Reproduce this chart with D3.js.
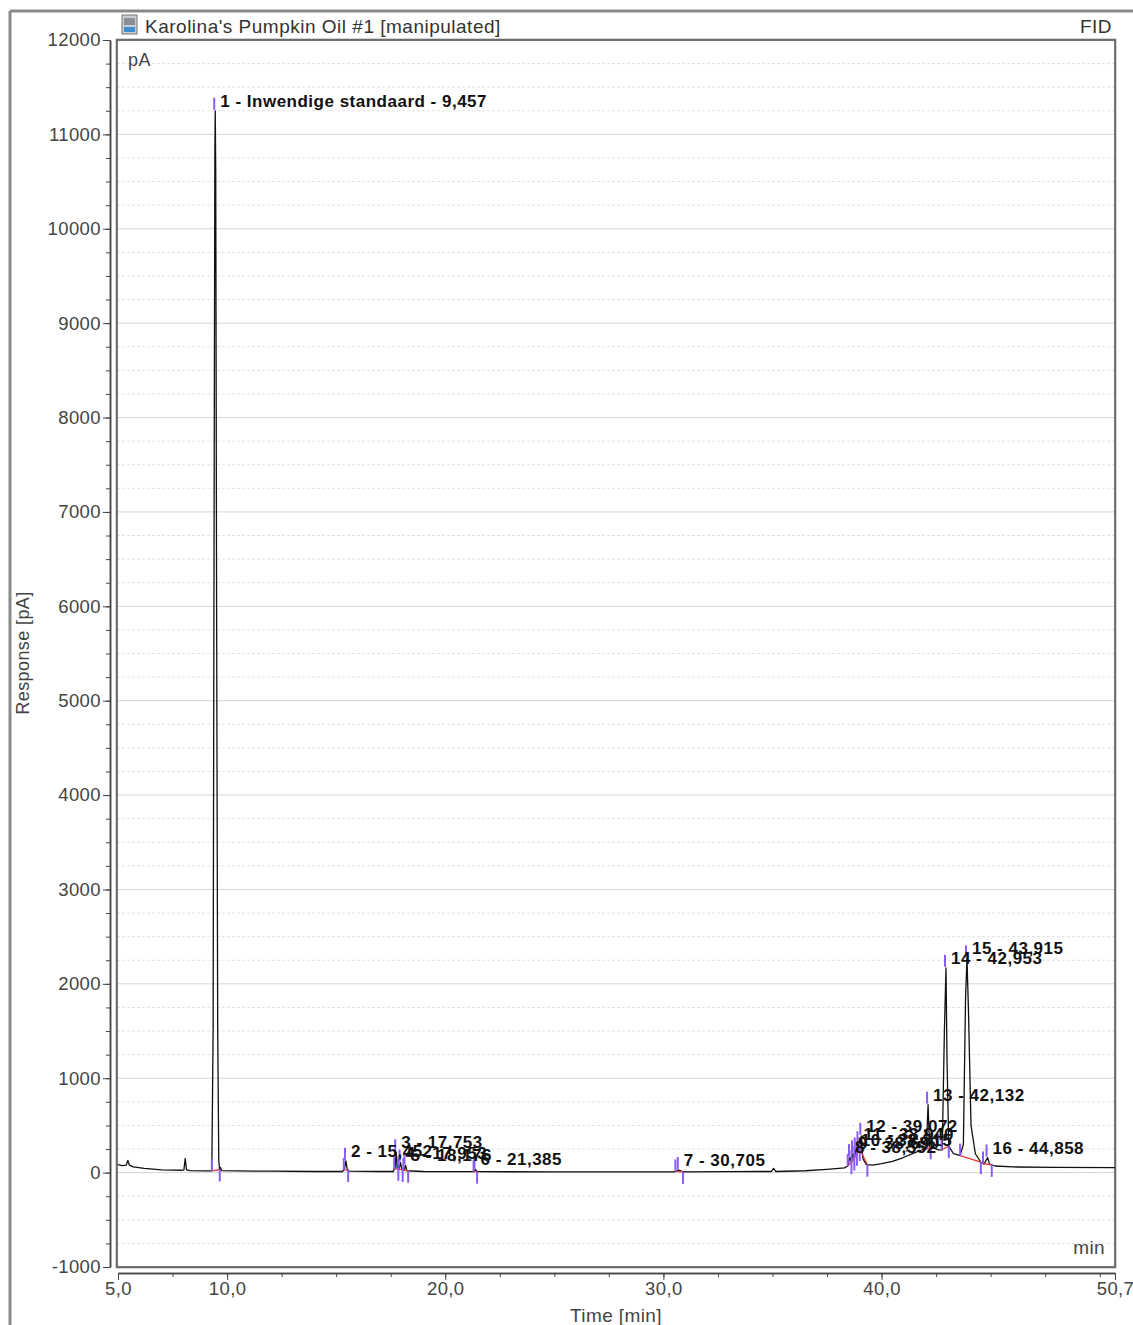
<!DOCTYPE html>
<html>
<head>
<meta charset="utf-8">
<script src="https://cdn.jsdelivr.net/npm/d3@7"></script>
<style>
  body { margin: 0; background: #fff; }
  text { font-family: "Liberation Sans", Arial, sans-serif; }
</style>
</head>
<body>
<div class="chart"></div>
<script>
// chromatogram trace (time in min, response in pA)
const traceTime = [5.00, 5.20, 5.38, 5.45, 5.52, 5.70, 6.20, 7.00, 7.90, 8.02, 8.08, 8.14, 8.30, 9.00, 9.30,
  9.36, 9.41, 9.44, 9.457, 9.48, 9.52, 9.57, 9.62, 9.66, 9.70, 9.74, 10.5, 12.0, 14.0,
  15.30, 15.38, 15.45, 15.50, 15.60, 17.0, 17.62, 17.70, 17.753, 17.80, 17.88, 17.95, 18.02, 18.12, 18.176, 18.24,
  19.0, 21.30, 21.385, 21.46, 25.0, 30.5, 30.705, 30.90, 33.0, 34.95, 35.05, 35.15, 36.5, 37.5, 38.3,
  38.45, 38.552, 38.62, 38.69, 38.75, 38.815, 38.87, 38.94, 39.00, 39.072, 39.14, 39.30, 39.6, 40.0, 40.5,
  41.0, 41.5, 41.9, 42.05, 42.132, 42.20, 42.40, 42.60, 42.78, 42.88, 42.953, 43.00, 43.08, 43.30, 43.60,
  43.75, 43.85, 43.915, 43.98, 44.10, 44.30, 44.55, 44.70, 44.858, 44.95, 45.2, 46.0, 48.0, 50.7];
const traceResp = [85, 75, 80, 130, 80, 60, 45, 30, 25, 28, 150, 30, 22, 18, 18,
  1500, 7500, 10800, 11250, 10600, 6000, 1500, 120, 30, 55, 22, 18, 15, 12,
  12, 40, 125, 40, 15, 12, 12, 60, 215, 60, 30, 105, 30, 25, 80, 20,
  12, 10, 35, 10, 8, 8, 28, 8, 10, 12, 45, 12, 20, 35, 50,
  70, 165, 110, 205, 150, 235, 200, 300, 250, 390, 150, 85, 80, 95, 120,
  160, 210, 245, 250, 720, 270, 260, 240, 240, 1500, 2170, 1200, 280, 200, 180,
  300, 1850, 2270, 1750, 500, 200, 110, 90, 160, 90, 70, 60, 55, 52];

// integrated peaks
const peakNo = [1, 2, 3, 4, 5, 6, 7, 8, 9, 10, 11, 12, 13, 14, 15, 16];
const peakName = ["Inwendige standaard", "", "", "", "", "", "", "", "", "", "", "", "", "", "", ""];
const peakRT = [9.457, 15.452, 17.753, 17.953, 18.176, 21.385, 30.705, 38.552, 38.690, 38.815, 38.940,
  39.072, 42.132, 42.953, 43.915, 44.858];
const peakTop = [11250, 125, 215, 105, 80, 35, 28, 165, 205, 235, 300, 390, 720, 2170, 2270, 160];
const peakStart = [9.30, 15.35, 17.66, 17.86, 18.08, 21.30, 30.55, 38.45, 38.62, 38.75, 38.87, 39.00, 42.05,
  42.75, 43.60, 44.65];
const peakEnd = [9.665, 15.55, 17.85, 18.05, 18.30, 21.46, 30.90, 38.62, 38.75, 38.87, 39.00, 39.35, 42.25,
  43.08, 44.55, 45.05];
const peakFill = ["", "", "#2cc6d6", "", "", "", "", "", "", "", "#4a2cd6", "", "", "", "", ""];

const yMajor = [-1000, 0, 1000, 2000, 3000, 4000, 5000, 6000, 7000, 8000, 9000, 10000, 11000, 12000];
const xMajor = [5.0, 10.0, 20.0, 30.0, 40.0, 50.7];

const W = 1133, H = 1325;
const plot = { left: 117, top: 40, right: 1115, bottom: 1267 };
const ink = "#444";

const svg = d3.select(".chart").append("svg")
  .attr("width", W)
  .attr("height", H);

const x = d3.scaleLinear().domain([5.0, 50.7]).range([plot.left + 1, plot.right]);
const y = d3.scaleLinear().domain([-1000, 12000]).range([plot.bottom, plot.top]);

const fmtComma = (d, n) => d.toFixed(n).replace(".", ",");

// outer window border
svg.append("line").attr("x1", 10).attr("x2", W).attr("y1", 11).attr("y2", 11)
  .attr("stroke", "#8a8a8a").attr("stroke-width", 3);
svg.append("line").attr("x1", 10).attr("x2", 10).attr("y1", 11).attr("y2", H)
  .attr("stroke", "#8a8a8a").attr("stroke-width", 3);

// title bar
const icon = svg.append("g").attr("transform", "translate(122,15)");
icon.append("rect").attr("width", 15).attr("height", 19).attr("fill", "#c9ccd0").attr("stroke", "#777");
icon.append("rect").attr("x", 2).attr("y", 3).attr("width", 11).attr("height", 7).attr("fill", "#8a8f96");
icon.append("rect").attr("x", 2).attr("y", 12).attr("width", 11).attr("height", 5).attr("fill", "#3d8fd1");
svg.append("text").attr("x", 145).attr("y", 33).attr("font-size", 19).attr("letter-spacing", 0.5)
  .attr("fill", "#333").text("Karolina's Pumpkin Oil #1 [manipulated]");
svg.append("text").attr("x", 1112).attr("y", 33).attr("text-anchor", "end").attr("font-size", 19)
  .attr("letter-spacing", 0.5).attr("fill", "#333").text("FID");

// grid
const grid = svg.append("g");
grid.selectAll("line.minor")
  .data(d3.range(-1000, 12001, 250).filter(v => v % 1000 !== 0))
  .join("line").attr("class", "minor")
  .attr("x1", plot.left).attr("x2", plot.right)
  .attr("y1", d => y(d)).attr("y2", d => y(d))
  .attr("stroke", "#e2e2e2").attr("stroke-dasharray", "3,2");
grid.selectAll("line.major")
  .data(yMajor)
  .join("line").attr("class", "major")
  .attr("x1", plot.left).attr("x2", plot.right)
  .attr("y1", d => y(d)).attr("y2", d => y(d))
  .attr("stroke", "#d4d4d4");

// plot frame (double line)
svg.append("rect")
  .attr("x", plot.left - 1).attr("y", plot.top - 1)
  .attr("width", plot.right - plot.left + 2).attr("height", plot.bottom - plot.top + 2)
  .attr("fill", "none").attr("stroke", "#aaa").attr("stroke-width", 1);
svg.append("rect")
  .attr("x", plot.left).attr("y", plot.top)
  .attr("width", plot.right - plot.left).attr("height", plot.bottom - plot.top)
  .attr("fill", "none").attr("stroke", "#555").attr("stroke-width", 1.6);

// y axis
const yAxis = svg.append("g").attr("transform", "translate(110,0)")
  .call(d3.axisLeft(y).tickValues(yMajor).tickSize(7).tickSizeOuter(0).tickFormat(d => String(d)));
svg.append("g").attr("transform", "translate(110,0)")
  .call(d3.axisLeft(y).tickValues(d3.range(-1000, 12001, 250)).tickSize(4).tickSizeOuter(0).tickFormat(""));
yAxis.selectAll("text").attr("font-size", 18.5).attr("letter-spacing", 0.4).attr("fill", ink).attr("x", -9);

// x axis
const xAxis = svg.append("g").attr("transform", "translate(0,1273)")
  .call(d3.axisBottom(x).tickValues(xMajor).tickSize(7).tickSizeOuter(0).tickFormat(d => fmtComma(d, 1)));
svg.append("g").attr("transform", "translate(0,1273)")
  .call(d3.axisBottom(x).tickValues(d3.range(5, 50.01, 2.5)).tickSize(4).tickSizeOuter(0).tickFormat(""));
xAxis.selectAll("text").attr("font-size", 18.5).attr("letter-spacing", 0.4).attr("fill", ink).attr("y", 9);

svg.selectAll(".domain").attr("stroke", ink).attr("stroke-width", 1.5);
svg.selectAll(".tick line").attr("stroke", ink);

// axis titles and units
svg.append("text").attr("transform", "translate(29,653) rotate(-90)")
  .attr("text-anchor", "middle").attr("font-size", 18).attr("letter-spacing", 0.4)
  .attr("fill", ink).text("Response [pA]");
svg.append("text").attr("x", 616).attr("y", 1322).attr("text-anchor", "middle")
  .attr("font-size", 19).attr("letter-spacing", 0.4).attr("fill", ink).text("Time [min]");
svg.append("text").attr("x", 128).attr("y", 66).attr("font-size", 18).attr("letter-spacing", 0.4)
  .attr("fill", ink).text("pA");
svg.append("text").attr("x", 1105).attr("y", 1254).attr("text-anchor", "end")
  .attr("font-size", 19).attr("letter-spacing", 0.4).attr("fill", ink).text("min");

// trace
svg.append("clipPath").attr("id", "clip").append("rect")
  .attr("x", plot.left).attr("y", plot.top)
  .attr("width", plot.right - plot.left).attr("height", plot.bottom - plot.top);
const g = svg.append("g").attr("clip-path", "url(#clip)");

const trace = traceTime.map((t, i) => [t, traceResp[i]]);
const respAt = t => {
  const i = d3.bisector(d => d[0]).right(trace, t);
  if (i <= 0) return trace[0][1];
  if (i >= trace.length) return trace[trace.length - 1][1];
  const a = trace[i - 1], b = trace[i];
  return a[1] + (b[1] - a[1]) * (t - a[0]) / (b[0] - a[0]);
};
const segment = (t0, t1) => [[t0, respAt(t0)]]
  .concat(trace.filter(d => d[0] > t0 && d[0] < t1))
  .concat([[t1, respAt(t1)]]);

// peak fills between trace and the integration baseline
peakNo.forEach((n, i) => {
  if (!peakFill[i]) return;
  const b0 = respAt(peakStart[i]), b1 = respAt(peakEnd[i]);
  const base = t => b0 + (b1 - b0) * (t - peakStart[i]) / (peakEnd[i] - peakStart[i]);
  g.append("path")
    .datum(segment(peakStart[i], peakEnd[i]))
    .attr("fill", peakFill[i])
    .attr("d", d3.area().x(d => x(d[0])).y0(d => y(base(d[0]))).y1(d => y(d[1])));
});

g.append("path")
  .datum(trace)
  .attr("fill", "none")
  .attr("stroke", "#111")
  .attr("stroke-width", 1.3)
  .attr("stroke-linejoin", "round")
  .attr("d", d3.line().x(d => x(d[0])).y(d => y(d[1])));

// integration baselines
g.selectAll("line.base")
  .data(peakNo.map((n, i) => i))
  .join("line").attr("class", "base")
  .attr("x1", i => x(peakStart[i])).attr("y1", i => y(respAt(peakStart[i])))
  .attr("x2", i => x(peakEnd[i])).attr("y2", i => y(respAt(peakEnd[i])))
  .attr("stroke", "#e23a3a").attr("stroke-width", 1.3);

// peak start / end / apex markers
const purple = "#8a5cf6";
const mk = svg.append("g").attr("stroke", purple).attr("stroke-width", 2);
peakNo.forEach((n, i) => {
  const xs = x(peakStart[i]), ys = y(respAt(peakStart[i]));
  const xe = x(peakEnd[i]), ye = y(respAt(peakEnd[i]));
  const xa = x(peakRT[i]), ya = y(peakTop[i]);
  mk.append("line").attr("x1", xs).attr("x2", xs).attr("y1", ys - 12).attr("y2", ys);
  mk.append("line").attr("x1", xe).attr("x2", xe).attr("y1", ye).attr("y2", ye + 12);
  mk.append("line").attr("x1", xa - 1).attr("x2", xa - 1).attr("y1", ya - 13).attr("y2", ya - 1);
});

// peak labels
svg.append("g").selectAll("text")
  .data(peakNo.map((n, i) => i))
  .join("text")
  .attr("x", i => x(peakRT[i]) + 5)
  .attr("y", i => y(peakTop[i]) - 4)
  .attr("font-size", 17)
  .attr("font-weight", "bold")
  .attr("letter-spacing", 0.5)
  .attr("fill", "#111")
  .text(i => peakNo[i] + " - " + (peakName[i] ? peakName[i] + " - " : "") + fmtComma(peakRT[i], 3));
</script>
</body>
</html>
